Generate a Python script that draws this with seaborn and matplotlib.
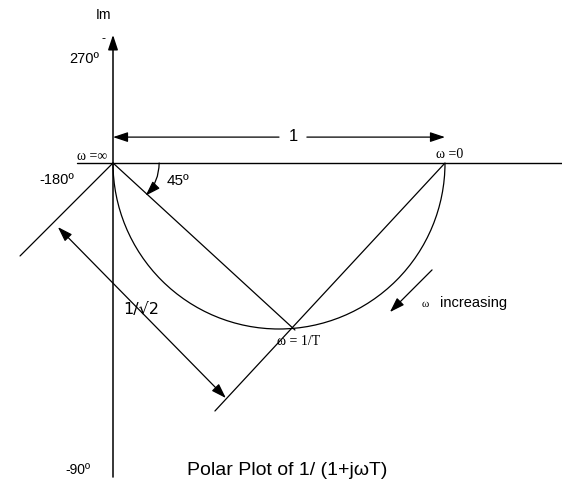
import numpy as np
import pandas as pd
import matplotlib
matplotlib.use("Agg")
import matplotlib.pyplot as plt
from matplotlib.patches import Arc, FancyArrowPatch
import seaborn as sns

sns.set_theme(style="white")
plt.rcParams["font.family"] = ["Liberation Sans", "DejaVu Sans"]

# Geometry of the polar plot of G(jw) = 1/(1+jwT), in units of the DC gain
origin = (0.0, 0.0)
unit_point = (1.0, 0.0)              # w = 0
corner_point = (0.548, -0.503)       # w = 1/T
circle_center = (0.5, 0.0)
circle_diameter = 1.0

# Construction lines
line_45_end = (-0.28, -0.28)
line_from_unit_end = (0.307, -0.747)
dim_sqrt2_start = (-0.166, -0.193)
dim_sqrt2_end = (0.340, -0.708)
dim_one_y = 0.078
dim_one_gap = (0.50, 0.584)
w_arrow_start = (0.961, -0.322)
w_arrow_end = (0.834, -0.449)
angle_arc_radius = 0.139
angle_arc_deg = 45

# Axes extents
real_axis_x = (-0.108, 1.36)
imag_axis_y = (-0.946, 0.386)

fig = plt.figure(figsize=(5.62, 4.83), dpi=100)
ax = fig.add_axes([0, 0, 1, 1])
ax.set_xlim(-113 / 332, 449 / 332)
ax.set_ylim(-320 / 332, 163 / 332)
ax.axis("off")

lw = 0.9
k = "black"

def seg(p, q, width=lw):
    df = pd.DataFrame({"x": [p[0], q[0]], "y": [p[1], q[1]]})
    sns.lineplot(data=df, x="x", y="y", color=k, lw=width, ax=ax,
                 sort=False, estimator=None)

def arrow(p, q, conn="arc3", width=lw, scale=10):
    ax.add_patch(FancyArrowPatch(p, q, arrowstyle="-|>,head_length=0.9,head_width=0.3",
                                 mutation_scale=scale, connectionstyle=conn,
                                 color=k, lw=width, shrinkA=0, shrinkB=0))

# Real axis and imaginary axis
seg((real_axis_x[0], 0), (real_axis_x[1], 0), width=1.0)
arrow((0, imag_axis_y[0]), (0, imag_axis_y[1]), width=1.1)

# Semicircular locus
ax.add_patch(Arc(circle_center, circle_diameter, circle_diameter,
                 theta1=180, theta2=360, color=k, lw=lw))

# Phasor construction lines
seg(origin, corner_point)
seg(unit_point, line_from_unit_end)
seg(origin, line_45_end)

# Dimension of length 1
arrow((dim_one_gap[0], dim_one_y), (origin[0], dim_one_y))
arrow((dim_one_gap[1], dim_one_y), (unit_point[0], dim_one_y))

# Dimension of length 1/sqrt(2)
mid = ((dim_sqrt2_start[0] + dim_sqrt2_end[0]) / 2,
       (dim_sqrt2_start[1] + dim_sqrt2_end[1]) / 2)
arrow(mid, dim_sqrt2_start)
arrow(mid, dim_sqrt2_end)

# 45 degree angle mark
a = np.deg2rad(angle_arc_deg)
arrow((angle_arc_radius, 0),
      (angle_arc_radius * np.cos(a), -angle_arc_radius * np.sin(a)),
      conn="arc3,rad=-0.2")

# Direction of increasing frequency
arrow(w_arrow_start, w_arrow_end)

sans = dict(color=k, ha="center", va="center")
serif_family = ["Liberation Serif", "DejaVu Serif"]
serif = dict(color=k, ha="center", va="center", family=serif_family)

ax.text(-0.030, 0.446, "Im", fontsize=10, **sans)
ax.text(-0.030, 0.372, "-", fontsize=9, **sans)
ax.text(-0.088, 0.313, "270º", fontsize=10.5, **sans)
ax.text(-0.168, -0.051, "-180º", fontsize=10.5, **sans)
ax.text(-0.105, -0.925, "-90º", fontsize=10, **sans)
ax.text(0.197, -0.054, "45º", fontsize=11, **sans)
ax.text(0.542, 0.080, "1", fontsize=12, **sans)
ax.text(0.084, -0.440, "1/√2", fontsize=11.5,
        family=["DejaVu Sans"], color=k, ha="center", va="center")
ax.text(-0.063, 0.021, "ω =∞", fontsize=10, **serif)
ax.text(1.015, 0.027, "ω =0", fontsize=10, **serif)
ax.text(0.560, -0.539, "ω = 1/T", fontsize=10, **serif)
ax.text(0.931, -0.425, "ω", fontsize=8, color=k, ha="left", va="center",
        family=serif_family)
ax.text(0.985, -0.423, "increasing", fontsize=10.5, color=k, ha="left", va="center")

# Caption
ax.text(0.524, -0.925, "Polar Plot of 1/ (1+jωT)", fontsize=14, **sans)

fig.savefig("out.png", dpi=100)
